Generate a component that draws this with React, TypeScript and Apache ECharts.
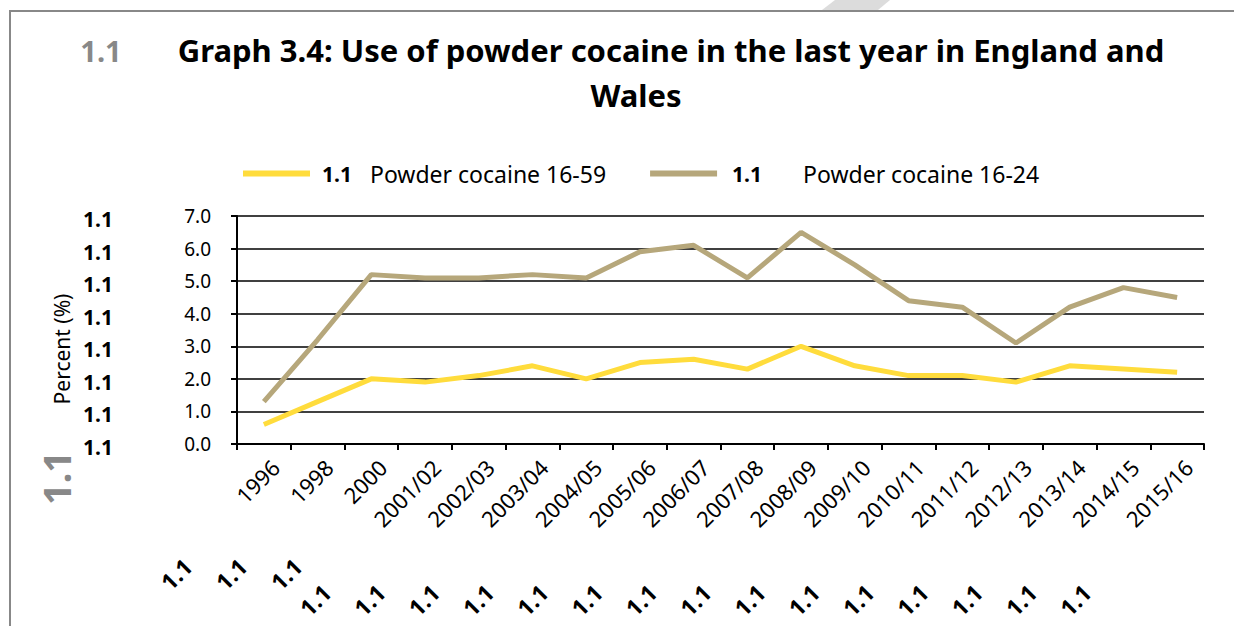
import React, { useEffect, useRef } from "react";
import * as echarts from "echarts";

// Survey years shown on the category axis
const years = [
  "1996", "1998", "2000", "2001/02", "2002/03", "2003/04", "2004/05", "2005/06",
  "2006/07", "2007/08", "2008/09", "2009/10", "2010/11", "2011/12", "2012/13",
  "2013/14", "2014/15", "2015/16",
];

// Percentage reporting use of powder cocaine in the last year
const adults16to59 = [
  0.6, 1.3, 2.0, 1.9, 2.1, 2.4, 2.0, 2.5, 2.6, 2.3, 3.0, 2.4, 2.1, 2.1, 1.9, 2.4, 2.3, 2.2,
];
const young16to24 = [
  1.3, 3.2, 5.2, 5.1, 5.1, 5.2, 5.1, 5.9, 6.1, 5.1, 6.5, 5.5, 4.4, 4.2, 3.1, 4.2, 4.8, 4.5,
];

const seriesNames = ["Powder cocaine 16-59", "Powder cocaine 16-24"];
const yTicks = [0, 1, 2, 3, 4, 5, 6, 7];

const FONT = "'Noto Sans', 'Open Sans', sans-serif";
const YELLOW = "#FFDC3C";
const TAN = "#B6A77B";

export default function App() {
  const ref = useRef<HTMLDivElement>(null);

  useEffect(() => {
    if (!ref.current) return;
    const chart = echarts.init(ref.current, undefined, { renderer: "svg" });

    const gridTop = 216;
    const gridBottom = 182;
    const plotH = 626 - gridTop - gridBottom;

    const numStyle = (size: number) => ({
      text: "1.1",
      font: `bold ${size}px ${FONT}`,
      fill: "#000",
      align: "center",
      verticalAlign: "middle",
    });

    // Stray "1.1" heading numbers that sit beside the y-axis ticks
    const leftNumbers = yTicks.map((t) => ({
      type: "text",
      x: 98,
      y: gridTop + plotH - (t * plotH) / 7 + 3,
      style: numStyle(21),
    }));

    // Stray rotated "1.1" numbers under the category labels
    const bottomRow1 = [176, 231, 286].map((x) => ({
      type: "text",
      x,
      y: 574,
      rotation: Math.PI / 4,
      style: numStyle(23),
    }));
    const bottomRow2 = Array.from({ length: 15 }, (_, i) => ({
      type: "text",
      x: 315 + i * 54.3,
      y: 600,
      rotation: Math.PI / 4,
      style: numStyle(23),
    }));

    const legendNumber = {
      fontWeight: "bold",
      fontSize: 21,
      color: "#000",
      fontFamily: FONT,
    };

    chart.setOption({
      animation: false,
      backgroundColor: "#fff",
      textStyle: { fontFamily: FONT },
      grid: { left: 237, right: 30, top: gridTop, bottom: gridBottom },
      legend: {
        left: 238,
        top: 157,
        itemWidth: 67,
        itemHeight: 6,
        itemGap: 44,
        icon: "rect",
        data: seriesNames,
        formatter: (name: string) =>
          name === seriesNames[0] ? `{a|1.1}${name}` : `{b|1.1}${name}`,
        textStyle: {
          fontSize: 23,
          color: "#000",
          fontFamily: FONT,
          rich: {
            a: { ...legendNumber, width: 48, padding: [0, 0, 0, 7] },
            b: { ...legendNumber, width: 71, padding: [0, 0, 0, 10] },
          },
        },
      },
      xAxis: {
        type: "category",
        data: years,
        boundaryGap: true,
        axisLine: { lineStyle: { color: "#000", width: 2 } },
        axisTick: { show: true, length: 6, lineStyle: { color: "#000", width: 2 } },
        axisLabel: {
          rotate: 45,
          interval: 0,
          fontSize: 22,
          color: "#000",
          fontFamily: FONT,
          margin: 8,
          verticalAlign: "top",
          padding: [5, 0, 0, 0],
        },
      },
      yAxis: {
        type: "value",
        min: 0,
        max: 7,
        interval: 1,
        axisLine: { show: true, lineStyle: { color: "#000", width: 2 } },
        axisTick: { show: true, length: 6, lineStyle: { color: "#000", width: 2 } },
        splitLine: { show: true, lineStyle: { color: "#000", width: 1.5 } },
        axisLabel: {
          formatter: (v: number) => v.toFixed(1),
          fontSize: 19,
          color: "#000",
          fontFamily: FONT,
          margin: 26,
        },
      },
      series: [
        {
          name: seriesNames[0],
          type: "line",
          data: adults16to59,
          symbol: "none",
          color: YELLOW,
          lineStyle: { color: YELLOW, width: 5 },
        },
        {
          name: seriesNames[1],
          type: "line",
          data: young16to24,
          symbol: "none",
          color: TAN,
          lineStyle: { color: TAN, width: 5 },
        },
      ],
      graphic: [
        // page frame and the light fold mark at the top
        {
          type: "polygon",
          shape: { points: [[835, 0], [890, 0], [878, 10], [822, 10]] },
          style: { fill: "#DCDCDC" },
        },
        {
          type: "line",
          shape: { x1: 9, y1: 11, x2: 1234, y2: 11 },
          style: { stroke: "#888", lineWidth: 2 },
        },
        {
          type: "line",
          shape: { x1: 10, y1: 11, x2: 10, y2: 626 },
          style: { stroke: "#888", lineWidth: 2 },
        },
        // title block
        {
          type: "text",
          x: 101,
          y: 50,
          style: {
            text: "1.1",
            font: `bold 29px ${FONT}`,
            fill: "#888",
            align: "center",
            verticalAlign: "middle",
          },
        },
        {
          type: "text",
          x: 671,
          y: 50,
          style: {
            text: "Graph 3.4: Use of powder cocaine in the last year in England and",
            font: `bold 31px ${FONT}`,
            fill: "#000",
            align: "center",
            verticalAlign: "middle",
          },
        },
        {
          type: "text",
          x: 636,
          y: 95,
          style: {
            text: "Wales",
            font: `bold 31px ${FONT}`,
            fill: "#000",
            align: "center",
            verticalAlign: "middle",
          },
        },
        // y-axis title
        {
          type: "text",
          x: 62,
          y: 349,
          rotation: Math.PI / 2,
          style: {
            text: "Percent (%)",
            font: `21px ${FONT}`,
            fill: "#000",
            align: "center",
            verticalAlign: "middle",
          },
        },
        // large grey rotated number by the axis foot
        {
          type: "text",
          x: 56,
          y: 478,
          rotation: Math.PI / 2,
          style: {
            text: "1.1",
            font: `bold 38px ${FONT}`,
            fill: "#888",
            align: "center",
            verticalAlign: "middle",
          },
        },
        ...leftNumbers,
        ...bottomRow1,
        ...bottomRow2,
      ],
    });

    return () => chart.dispose();
  }, []);

  return (
    <div
      ref={ref}
      style={{ position: "fixed", left: 0, top: 0, width: 1234, height: 626 }}
    />
  );
}
